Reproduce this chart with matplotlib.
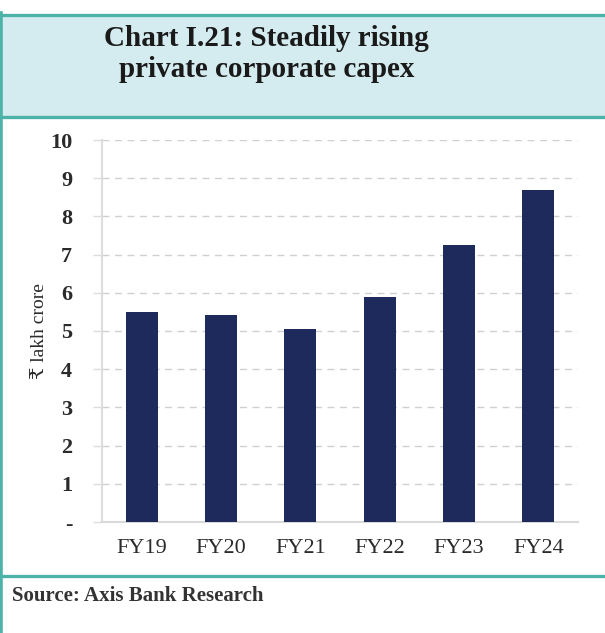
import matplotlib
matplotlib.use("Agg")
import matplotlib.pyplot as plt
from matplotlib.patches import Rectangle
from matplotlib.lines import Line2D

categories = ["FY19", "FY20", "FY21", "FY22", "FY23", "FY24"]
values = [5.50, 5.42, 5.04, 5.88, 7.24, 8.69]
yticks = [0, 1, 2, 3, 4, 5, 6, 7, 8, 9, 10]
yticklabels = ["-", "1", "2", "3", "4", "5", "6", "7", "8", "9", "10"]
title = "Chart I.21: Steadily rising\nprivate corporate capex"
ylabel = "\u20b9 lakh crore"
source = "Source: Axis Bank Research"

W, H = 605, 633
fig = plt.figure(figsize=(W / 100, H / 100), dpi=100)
fig.patch.set_facecolor("white")

teal = "#4db3a9"
hdr_bg = "#d4ecef"
bar_c = "#1f2a5c"
txt_c = "#2b2b2b"
serif = ["Liberation Serif", "DejaVu Serif", "DejaVu Sans"]

def fy(y):
    return 1 - y / H

def fx(x):
    return x / W

# header background
fig.patches.append(Rectangle((fx(0), fy(117)), 1, fy(15) - fy(117), transform=fig.transFigure,
                             facecolor=hdr_bg, edgecolor="none", zorder=0))
# borders
for y in (14.5, 116.5, 576):
    fig.lines.append(Line2D([0, 1], [fy(y), fy(y)], transform=fig.transFigure, color=teal, lw=2.4))
fig.lines.append(Line2D([fx(1.2), fx(1.2)], [fy(13), 0], transform=fig.transFigure, color=teal, lw=2.6))

fig.text(0.44, fy(54), title, ha="center", va="center", fontsize=21, fontweight="bold",
         family=serif, color="#1a1a1a", linespacing=1.15, multialignment="center")
fig.text(fx(12), fy(596), source, ha="left", va="center", fontsize=15, fontweight="bold",
         family=serif, color="#333333")

ax = fig.add_axes([fx(102), fy(522), fx(578) - fx(102), fy(140) - fy(522)])
x = list(range(len(categories)))
ax.bar(x, values, width=0.4, color=bar_c, zorder=3)
ax.set_xlim(-0.5, 5.5)
ax.set_ylim(0, 10)
ax.set_yticks(yticks)
ax.set_yticklabels(yticklabels, family=serif, fontsize=16, fontweight="bold", color=txt_c)
ax.set_xticks(x)
ax.set_xticklabels(categories, family=serif, fontsize=16, color=txt_c)
ax.yaxis.grid(True, linestyle=(0, (5, 4)), color="#d0d0d0", lw=1.0, zorder=0)
for s in ("top", "right"):
    ax.spines[s].set_visible(False)
ax.spines["left"].set_color("#dddddd")
ax.spines["left"].set_linewidth(1.5)
ax.spines["bottom"].set_color("#d9d9d9")
ax.spines["bottom"].set_linewidth(1.5)
ax.tick_params(axis="y", length=6.5, color="#dddddd", width=1.0, pad=15)
ax.tick_params(axis="x", length=0, pad=12)
ax.set_ylabel(ylabel, family=serif, fontsize=14, color=txt_c, labelpad=1)
ax.yaxis.label.set_position((0, 0.5))

fig.savefig("out.png", dpi=100)
